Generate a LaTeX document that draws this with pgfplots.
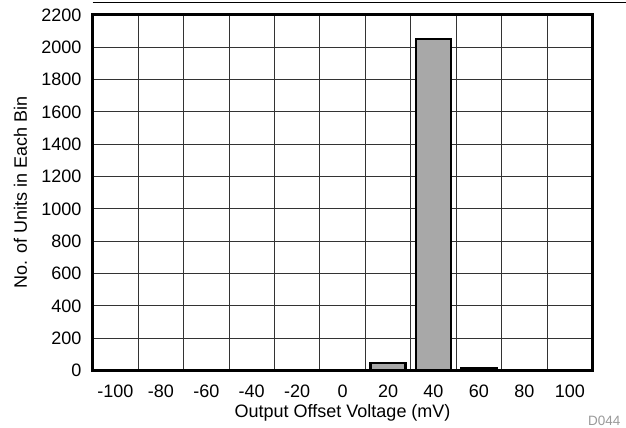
\documentclass[border=0pt]{standalone}
\usepackage{fontspec}
\setmainfont{Liberation Sans}
\usepackage{pgfplots}
\pgfplotsset{compat=1.18}
\newcommand{\fs}{\fontsize{18bp}{21bp}\selectfont}
\begin{document}
\fs
\begin{tikzpicture}
\useasboundingbox (0,0) rectangle (626bp,428bp);
\draw[line width=1.5bp] (92.7bp,425.7bp) -- (626bp,425.7bp);
\begin{axis}[
  at={(92.7bp,57.5bp)}, anchor=south west,
  scale only axis, width=499.8bp, height=355.5bp,
  xmin=-110, xmax=110, ymin=0, ymax=2200,
  xtick={-100,-80,...,100},
  xticklabels={-100,-80,-60,-40,-20,0,20,40,60,80,100},
  minor xtick={-90,-70,...,90},
  ytick={0,200,...,2200},
  yticklabels={0,200,400,600,800,1000,1200,1400,1600,1800,2000,2200},
  major tick length=0pt, minor tick length=0pt,
  xmajorgrids=false, xminorgrids=true, ymajorgrids=true,
  major grid style={black!80, line width=1bp},
  minor grid style={black!80, line width=1bp},
  axis line style={line width=3bp},
  tick style={draw=none},
  /pgf/number format/assume math mode=true,
  every tick label/.append style={font=\fs},
  xticklabel style={anchor=base, yshift=-26.5bp, inner sep=0pt},
  yticklabel style={anchor=east, inner sep=0pt, xshift=-11bp},
  xlabel={Output Offset Voltage (mV)},
  ylabel={No. of Units in Each Bin},
  label style={font=\fs},
  xlabel style={at={(axis description cs:0.5,0)}, anchor=base, yshift=-46.5bp, inner sep=0pt},
  ylabel style={at={(axis description cs:-0.1315,0.5)}, anchor=base, inner sep=0pt},
  clip=false,
]
\addplot[ybar, bar width=15.5, fill=black!34, draw=black, line width=2.5bp]
  coordinates {(20,46) (40,2050) (60,12)};
\end{axis}
\node[anchor=base east, text=black!40, font=\fontsize{13.5bp}{16bp}\selectfont, inner sep=0pt] at (620.7bp,3bp) {D044};
\end{tikzpicture}
\end{document}
